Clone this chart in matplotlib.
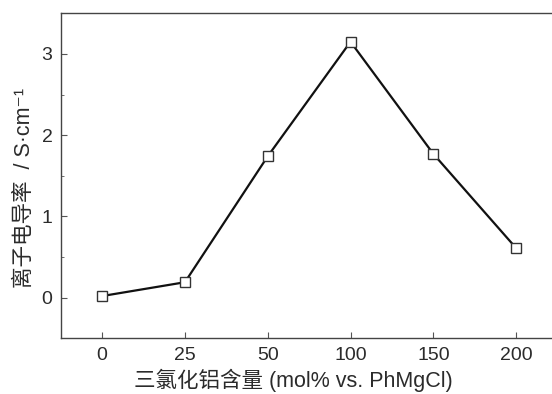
import matplotlib
matplotlib.use('Agg')
import matplotlib.pyplot as plt
from matplotlib.ticker import MultipleLocator

plt.rcParams['font.family'] = ['Liberation Sans', 'Noto Sans CJK SC', 'DejaVu Sans']

categories = ['0', '25', '50', '100', '150', '200']
conductivity = [0.02, 0.19, 1.74, 3.15, 1.77, 0.61]

text_color = '#2b2b2b'

fig = plt.figure(figsize=(5.52, 3.94), dpi=100)
# right edge of the axes sits just outside the picture, like the original crop
ax = fig.add_axes([0.110, 0.1414, 0.900, 0.8248])

x = range(len(categories))
ax.plot(x, conductivity, color='#111111', linewidth=1.6, marker='s',
        markersize=7, markerfacecolor='white', markeredgecolor='#333333',
        markeredgewidth=1.0, zorder=3)

ax.set_xlim(-0.5, 5.5)
ax.set_ylim(-0.5, 3.5)
ax.set_xticks(list(x))
ax.set_xticklabels(categories)
ax.set_yticks([0, 1, 2, 3])
ax.yaxis.set_minor_locator(MultipleLocator(0.5))

ax.tick_params(axis='both', which='both', direction='in', labelsize=14,
               colors='#555555', labelcolor=text_color)
ax.tick_params(axis='both', which='major', length=4, width=0.8, pad=6)
ax.tick_params(axis='y', which='minor', length=2, width=0.6)
ax.tick_params(axis='x', which='minor', bottom=False)

for side in ['left', 'bottom', 'top', 'right']:
    ax.spines[side].set_color('#444444')
    ax.spines[side].set_linewidth(1.0)

ax.set_xlabel('三氯化铝含量 (mol% vs. PhMgCl)', fontsize=15.5, color=text_color)
ax.set_ylabel('离子电导率  / S·cm⁻¹', fontsize=15.5, color=text_color)
ax.xaxis.label.set_va('center')
ax.yaxis.label.set_va('center')
ax.yaxis.label.set_ha('center')
ax.xaxis.set_label_coords(0.468, -0.128)
ax.yaxis.set_label_coords(-0.074, 0.464)

fig.savefig('out.png', dpi=100)
